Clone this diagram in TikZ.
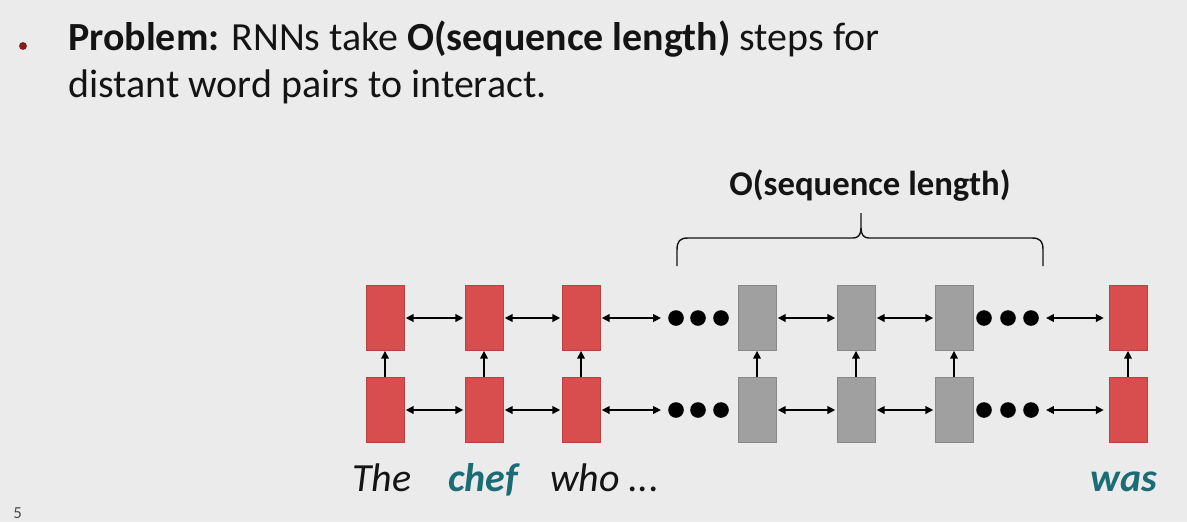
\documentclass[tikz,border=0pt]{standalone}
\usepackage{fontspec}
\setmainfont{Carlito}
\usetikzlibrary{arrows.meta}

\begin{document}
\begin{tikzpicture}[x=0.025cm,y=-0.025cm]
\definecolor{bg}{RGB}{235,235,235}
\definecolor{ink}{RGB}{20,20,20}
\definecolor{cellred}{RGB}{216,78,78}
\definecolor{cellgray}{RGB}{160,160,160}
\definecolor{wordteal}{RGB}{28,108,118}
\definecolor{bulletred}{RGB}{130,30,30}
\tikzset{cell/.style={draw,line width=0.6pt,inner sep=0pt,minimum width=0.95cm,minimum height=1.625cm},
  dot/.style={circle,fill=black,inner sep=0pt,minimum size=0.39cm},
  link/.style={<->,>={Triangle[length=5.5pt,width=5.5pt]},line width=1pt,shorten <=1pt,shorten >=1pt},
  word/.style={anchor=base west,inner sep=0pt,font=\fontsize{28.4}{34}\selectfont\itshape}}
\useasboundingbox[fill=bg] (0,0) rectangle (1187,522);

% the problem statement
\node[circle,fill=bulletred,inner sep=0pt,minimum size=5.6pt] (bul) at (23,46) {};
\node[anchor=base west,inner sep=0pt,text=ink,font=\fontsize{28.4}{34}\selectfont] (ttlone) at (68,50)
  {\textbf{Problem:} RNNs take \textbf{O(sequence length)} steps for};
\node[anchor=base west,inner sep=0pt,text=ink,font=\fontsize{28.4}{34}\selectfont] (ttltwo) at (68,97)
  {distant word pairs to interact.};

% two layers of cells, red at the ends and grey in the middle
\foreach \i/\x/\c in {1/385/cellred,2/484/cellred,3/581/cellred,4/757/cellgray,5/856/cellgray,6/954/cellgray,7/1128/cellred}
{
    \node[cell,fill=\c,draw=\c!85!black] (u\i) at (\x,318) {};
    \node[cell,fill=\c,draw=\c!85!black] (l\i) at (\x,410) {};
    \draw[link,<-,shorten >=0pt,shorten <=0pt] (u\i) -- (l\i);
}
% the dots and the links along each layer
\foreach \row/\y in {u/318,l/410}
{
    \foreach \k/\x in {1/676,2/698,3/721,4/984,5/1008,6/1031}
        \node[dot] (\row d\k) at (\x,\y) {};
    \draw[link] (\row1) -- (\row2);
    \draw[link] (\row2) -- (\row3);
    \draw[link,shorten >=5pt] (\row3) -- (\row d1);
    \draw[link] (\row4) -- (\row5);
    \draw[link] (\row5) -- (\row6);
    \draw[link,shorten <=5pt,shorten >=3.5pt] (\row d6) -- (\row7);
}

% brace over the grey part
\draw[ink,line width=1pt] (677,266) -- (677,250) .. controls (677,241) and (680,238) .. (688,238)
  -- (853,238) .. controls (858,238) and (861,235) .. (861,228) -- (861,213)
  (861,228) .. controls (861,235) and (864,238) .. (869,238)
  -- (1032,238) .. controls (1040,238) and (1043,241) .. (1043,250) -- (1043,266);
\node[anchor=base,inner sep=0pt,text=ink,font=\fontsize{24.7}{30}\selectfont\bfseries] (olen) at (870,195) {O(sequence length)};

% the words under the cells
\node[word,text=ink] (wthe) at (352,491) {The};
\node[word,text=wordteal,font=\fontsize{28.4}{34}\selectfont\bfseries\itshape] (wchef) at (448,491) {chef};
\node[word,text=ink] (wwho) at (550,491) {who ...};
\node[word,text=wordteal,font=\fontsize{28.4}{34}\selectfont\bfseries\itshape] (wwas) at (1090,491) {was};

% slide number in the corner
\node[anchor=north west,inner sep=0pt,text=black!70,font=\fontsize{12}{12}\selectfont] (pgno) at (13,507) {5};
\end{tikzpicture}
\end{document}
